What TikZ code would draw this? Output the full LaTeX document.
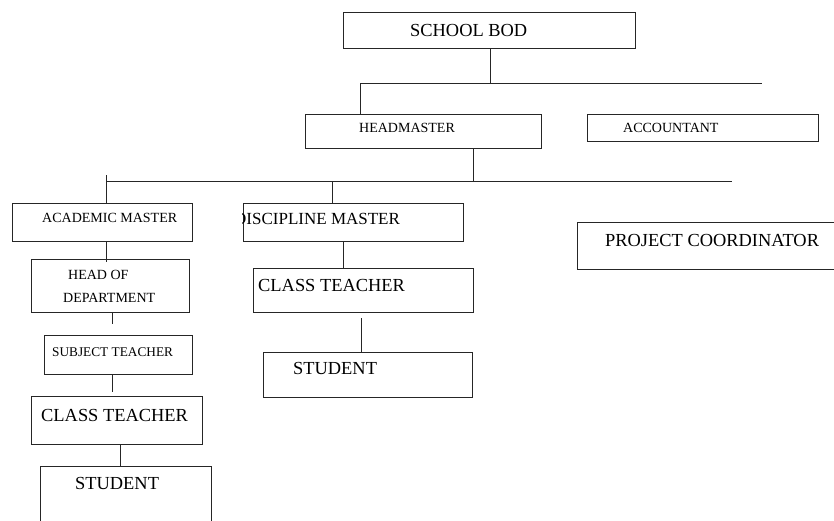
\documentclass[tikz,border=0pt]{standalone}
\usepackage{fontspec}
\setmainfont{Liberation Serif}
\begin{document}
\begin{tikzpicture}[x=1pt,y=-1pt,
  box/.style={draw=black!85,line width=0.9pt,inner sep=0pt,anchor=north west},
  lbl/.style={inner sep=0pt,anchor=west,text=black},
  big/.style={font=\fontsize{18.4}{20}\selectfont},
  mid/.style={font=\fontsize{17}{19}\selectfont},
  small/.style={font=\fontsize{14}{16}\selectfont},
  tiny/.style={font=\fontsize{13.3}{15}\selectfont},
  link/.style={draw=black!85,line width=0.9pt}]
\clip (0,0) rectangle (834,520);
% boxes
\node[box,minimum width=292,minimum height=36] (sb) at (343,12) {};
\node[box,minimum width=236,minimum height=34] (hm) at (305,114) {};
\node[box,minimum width=231,minimum height=27] (ac) at (587,114) {};
\node[box,minimum width=180,minimum height=38] (am) at (12,203) {};
\node[box,minimum width=220,minimum height=38] (dm) at (243,203) {};
\node[box,minimum width=158,minimum height=53] (hod) at (31,259) {};
\node[box,minimum width=148,minimum height=39] (st) at (44,335) {};
\node[box,minimum width=171,minimum height=48] (ctl) at (31,396) {};
\node[box,minimum width=171,minimum height=70] (stl) at (40,466) {};
\node[box,minimum width=220,minimum height=44] (ctr) at (253,268) {};
\node[box,minimum width=209,minimum height=45] (str) at (263,352) {};
\node[box,minimum width=280,minimum height=47] (pc) at (577,222) {};
% labels
\node[lbl,big] (tsb) at (410,30) {SCHOOL BOD};
\node[lbl,small] (thm) at (359,128) {HEADMASTER};
\node[lbl,small] (tac) at (623,128) {ACCOUNTANT};
\node[lbl,small] (tam) at (42,218) {ACADEMIC MASTER};
\begin{scope}
\clip (242.5,203) rectangle (dm.south east);
\node[lbl,mid] (tdm) at (234,219) {DISCIPLINE MASTER};
\end{scope}
\node[lbl,small] (thod1) at (68,275) {HEAD OF};
\node[lbl,small] (thod2) at (63,298) {DEPARTMENT};
\node[lbl,tiny] (tst) at (52,352) {SUBJECT TEACHER};
\node[lbl,big] (tctl) at (41,415) {CLASS TEACHER};
\node[lbl,big] (tstl) at (75,483) {STUDENT};
\node[lbl,big] (tctr) at (258,285) {CLASS TEACHER};
\node[lbl,big] (tstr) at (293,368) {STUDENT};
\node[lbl,big] (tpc) at (605,240) {PROJECT COORDINATOR};
% junction coordinates
\coordinate (j1) at (490,83);
\coordinate (j1l) at (360,83);
\coordinate (j1r) at (762,83);
\coordinate (j2) at (473,181);
\coordinate (j2l) at (106,181);
\coordinate (j2t) at (106,175);
\coordinate (j2r) at (732,181);
\coordinate (j2m) at (332,181);
% connectors
\draw[link] (sb.south -| j1) -- (j1);
\draw[link] (j1l) -- (j1r);
\draw[link] (j1l) -- (hm.north -| j1l);
\draw[link] (hm.south -| j2) -- (j2);
\draw[link] (j2l) -- (j2r);
\draw[link] (j2t) -- (am.north -| j2t);
\draw[link] (j2m) -- (dm.north -| j2m);
\coordinate (a1) at (106,262);
\draw[link] (am.south -| a1) -- (a1);
\coordinate (a2t) at (112,313);
\coordinate (a2b) at (112,324);
\draw[link] (a2t) -- (a2b);
\coordinate (a3) at (112,392);
\draw[link] (st.south -| a3) -- (a3);
\coordinate (a4) at (120,444);
\draw[link] (a4) -- (stl.north -| a4);
\coordinate (d1) at (343,241);
\draw[link] (dm.south -| d1) -- (ctr.north -| d1);
\coordinate (d2) at (361,318);
\draw[link] (d2) -- (str.north -| d2);
\end{tikzpicture}
\end{document}
